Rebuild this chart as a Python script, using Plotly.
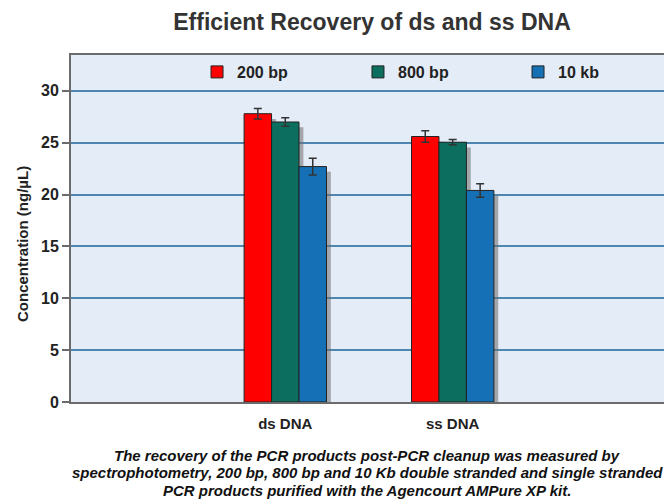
import plotly.graph_objects as go

categories = ["ds DNA", "ss DNA"]
series_names = ["200 bp", "800 bp", "10 kb"]
values_200bp = [27.8, 25.6]
values_800bp = [27.0, 25.05]
values_10kb = [22.7, 20.4]
errors_200bp = [0.5, 0.55]
errors_800bp = [0.4, 0.25]
errors_10kb = [0.8, 0.65]
y_ticks = [0, 5, 10, 15, 20, 25, 30]
caption_lines = [
    "The recovery of the PCR products post-PCR cleanup was measured by",
    "spectrophotometry, 200 bp, 800 bp and 10 Kb double stranded and single stranded",
    "PCR products purified with the Agencourt AMPure XP kit.",
]

colors = ["#ff0000", "#0b6e5e", "#1570b5"]
series_values = [values_200bp, values_800bp, values_10kb]
series_errors = [errors_200bp, errors_800bp, errors_10kb]
legend_ids = ["legend", "legend2", "legend3"]
legend_x = [0.2097, 0.4775, 0.7438]

# page body adds an 8px margin; figure coordinates = screen - 8
FW, FH = 664, 493
ML, MT, MB, MR = 63, 47, 99, 0
PW = FW - ML - MR
PH = FH - MT - MB

W = 0.164  # bar width in category units
offsets = [-1.5 * W, -0.5 * W, 0.5 * W]
shadow_dx = 0.026
shadow_drop = 0.5

fig = go.Figure()

# drop shadows first
for vals, off in zip(series_values, offsets):
    fig.add_trace(go.Bar(
        x=categories, y=[v - shadow_drop for v in vals],
        width=W, offset=off + shadow_dx,
        marker=dict(color="rgba(110,110,110,0.55)", line=dict(width=0)),
        showlegend=False, hoverinfo="skip",
    ))

for name, vals, errs, col, off, lg in zip(series_names, series_values, series_errors,
                                         colors, offsets, legend_ids):
    fig.add_trace(go.Bar(
        x=categories, y=vals, name=name, legend=lg,
        width=W, offset=off,
        marker=dict(color=col, line=dict(color="#222222", width=1)),
        error_y=dict(type="data", array=errs, color="#333333", thickness=1.5, width=4),
    ))

font_fam = "Liberation Sans, Arial, sans-serif"

legend_common = dict(
    orientation="h", xanchor="left", yanchor="middle",
    y=(FH - MB - (72 - 8)) / PH,
    bgcolor="rgba(0,0,0,0)",
    font=dict(family=font_fam, size=16, color="#222222", weight="bold"),
)

layout_legends = {}
for lg, lx in zip(legend_ids, legend_x):
    layout_legends[lg] = dict(legend_common, x=lx)

annotations = [
    dict(
        text="<b>Concentration (ng/µL)</b>",
        textangle=-90,
        xref="paper", yref="paper",
        x=(22 - 8 - ML) / PW, y=(FH - MB - (244 - 8)) / PH,
        xanchor="center", yanchor="middle",
        showarrow=False,
        font=dict(family=font_fam, size=15, color="#222222"),
    )
]
caption_y = [455, 472.5, 490]
for line, cy in zip(caption_lines, caption_y):
    annotations.append(dict(
        text="<b><i>" + line + "</i></b>",
        xref="paper", yref="paper",
        x=(367 - 8 - ML) / PW, y=(FH - MB - (cy - 8)) / PH,
        xanchor="center", yanchor="middle",
        showarrow=False, align="center",
        font=dict(family=font_fam, size=15, color="#111111"),
    ))

fig.update_layout(
    width=FW, height=FH,
    barmode="overlay",
    paper_bgcolor="white",
    plot_bgcolor="#e4ecf7",
    margin=dict(l=ML, r=MR, t=MT, b=MB),
    title=dict(
        text="<b>Efficient Recovery of ds and ss DNA</b>",
        font=dict(family=font_fam, size=23, color="#333333"),
        x=(372 - 8) / FW, xref="container", xanchor="center",
        y=1 - (22 - 8) / FH, yref="container", yanchor="middle",
    ),
    xaxis=dict(
        range=[-1.28, 2.31],
        showline=True, linecolor="#6b6b6b", linewidth=2, mirror=True,
        showgrid=False, zeroline=False,
        ticks="outside", ticklen=7, tickcolor="rgba(0,0,0,0)",
        tickfont=dict(family=font_fam, size=15, color="#222222", weight="bold"),
    ),
    yaxis=dict(
        range=[0, 33.46],
        tickvals=y_ticks,
        showline=True, linecolor="#6b6b6b", linewidth=2,
        ticks="outside", ticklen=7, tickwidth=1.5, tickcolor="#6b6b6b",
        showgrid=True, gridcolor="#4f86b0", gridwidth=2,
        zeroline=False,
        tickfont=dict(family=font_fam, size=16, color="#222222", weight="bold"),
    ),
    annotations=annotations,
    **layout_legends,
)

fig.write_html("out.html")
